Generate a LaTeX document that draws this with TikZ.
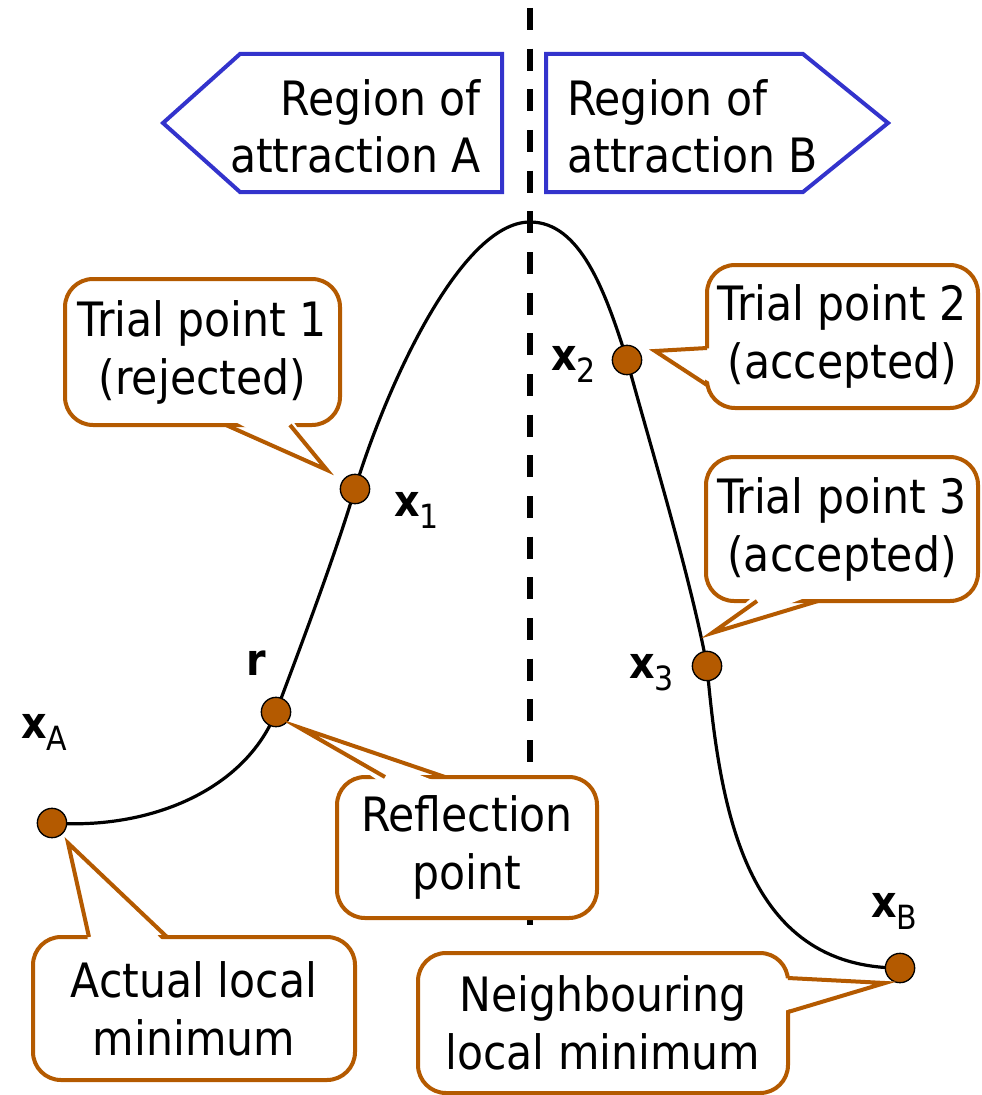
\documentclass[tikz,border=0pt]{standalone}
\usepackage{fontspec}
\setmainfont{DejaVu Sans Condensed}
\usepackage{tikz}
\usetikzlibrary{calc}
\definecolor{rust}{RGB}{180,90,0}
\definecolor{regblue}{RGB}{51,51,204}
\tikzstyle{callout} = [rectangle, rounded corners=21pt, draw=rust, line width=3pt, fill=white, outer sep=0pt, inner sep=0pt, align=center, font=\fontsize{35.5}{43.5}\selectfont]
\tikzstyle{pointer} = [draw=rust, line width=3pt, line join=miter, miter limit=25]
\tikzstyle{dot} = [circle, draw=black, line width=1pt, fill=rust, minimum size=22pt, inner sep=0pt]
\tikzstyle{energy} = [line width=2.4pt]
\tikzstyle{dashline} = [line width=4pt, dash pattern=on 16.5pt off 14pt]
\tikzstyle{region} = [draw=regblue, line width=3pt, line join=miter]
\tikzstyle{regtext} = [inner sep=0pt, font=\fontsize{35.5}{43}\selectfont]
\tikzstyle{lab} = [inner sep=0pt, anchor=base west, font=\fontsize{33}{36}\selectfont]
\newcommand{\xsub}[1]{\textbf{x}\raisebox{-9.5pt}{\fontsize{25}{25}\selectfont #1}}

\begin{document}
\begin{tikzpicture}[x=0.75pt, y=-0.75pt]
        \useasboundingbox (0,0) rectangle (981,1095);

        % separatrix between the two basins
        \draw [dashline] (530,8) -- (530,943);

        % basins
        \draw [region] (163,123) -- (240,54) -- (502,54) -- (502,192) -- (240,192) -- cycle;
        \draw [region] (888,123) -- (803,54) -- (546,54) -- (546,192) -- (803,192) -- cycle;
        \node (regA) [regtext, anchor=north east, align=right] at (481,79) {Region of\\attraction A};
        \node (regB) [regtext, anchor=north west, align=left] at (567,79) {Region of\\attraction B};

        % energy profile
        \coordinate (pA) at (52,823);
        \coordinate (pr) at (276,712);
        \coordinate (p1) at (355,489);
        \coordinate (top) at (530,222);
        \coordinate (p2) at (627,360);
        \coordinate (p3) at (707,666);
        \coordinate (pB) at (900,968);
        \draw [energy] (pA) .. controls (150,830) and (245,790) .. (pr)
                .. controls (305,635) and (335,555) .. (p1)
                .. controls (385,390) and (460,222) .. (top)
                .. controls (580,222) and (605,290) .. (p2)
                .. controls (650,445) and (690,575) .. (p3)
                .. controls (720,810) and (745,968) .. (pB);

        \node (dA) [dot] at (pA) {};
        \node (dr) [dot] at (pr) {};
        \node (d1) [dot] at (p1) {};
        \node (d2) [dot] at (p2) {};
        \node (d3) [dot] at (p3) {};
        \node (dB) [dot] at (pB) {};

        \node (labA) [lab] at (21,738) {\xsub{A}};
        \node (labr) [lab] at (246,675) {\textbf{r}};
        \node (lab1) [lab] at (394,516) {\xsub{1}};
        \node (lab2) [lab] at (551,370) {\xsub{2}};
        \node (lab3) [lab] at (629,678) {\xsub{3}};
        \node (labB) [lab] at (871,917) {\xsub{B}};

        % callouts
        \node (tp1) [callout, minimum width=206.25pt, minimum height=109.5pt] at (202.5,352) {Trial point 1\\(rejected)};
        \node (tp2) [callout, minimum width=203.25pt, minimum height=107.25pt] at (842.5,336.5) {Trial point 2\\(accepted)};
        \node (tp3) [callout, minimum width=204pt, minimum height=108pt] at (842,529) {Trial point 3\\(accepted)};
        \node (refl) [callout, minimum width=195pt, minimum height=105.75pt] at (467,847.5) {Reflection\\point};
        \node (actmin) [callout, minimum width=241.5pt, minimum height=107.25pt] at (194,1008.5) {Actual local\\minimum};
        \node (neigh) [callout, minimum width=277.5pt, minimum height=105pt] at (603,1023) {Neighbouring\\local minimum};

        \coordinate (tip1) at (327,470);
        \coordinate (tip2) at (655,351);
        \coordinate (tip3) at (712,633);
        \coordinate (tipr) at (298,727);
        \coordinate (tipA) at (68,843);
        \coordinate (tipB) at (885,983);

        \fill [white] ($(tp1.south west)+(161,-8)$) -- (tip1) -- ($(tp1.south west)+(225,-8)$) -- cycle;
        \draw [pointer] ($(tp1.south west)+(161,0)$) -- (tip1) -- ($(tp1.south west)+(225,0)$);
        \fill [white] ($(tp2.north west)+(8,83)$) -- (tip2) -- ($(tp2.north west)+(8,120)$) -- cycle;
        \draw [pointer] ($(tp2.north west)+(0,83)$) -- (tip2) -- ($(tp2.north west)+(0,120)$);
        \fill [white] ($(tp3.south west)+(51,-8)$) -- (tip3) -- ($(tp3.south west)+(112,-8)$) -- cycle;
        \draw [pointer] ($(tp3.south west)+(51,0)$) -- (tip3) -- ($(tp3.south west)+(112,0)$);
        \fill [white] ($(refl.north west)+(48,8)$) -- (tipr) -- ($(refl.north west)+(108,8)$) -- cycle;
        \draw [pointer] ($(refl.north west)+(48,0)$) -- (tipr) -- ($(refl.north west)+(108,0)$);
        \fill [white] ($(actmin.north west)+(56,8)$) -- (tipA) -- ($(actmin.north west)+(134,8)$) -- cycle;
        \draw [pointer] ($(actmin.north west)+(56,0)$) -- (tipA) -- ($(actmin.north west)+(134,0)$);
        \fill [white] ($(neigh.north east)+(-8,25)$) -- (tipB) -- ($(neigh.north east)+(-8,59)$) -- cycle;
        \draw [pointer] ($(neigh.north east)+(0,25)$) -- (tipB) -- ($(neigh.north east)+(0,59)$);
\end{tikzpicture}
\end{document}
